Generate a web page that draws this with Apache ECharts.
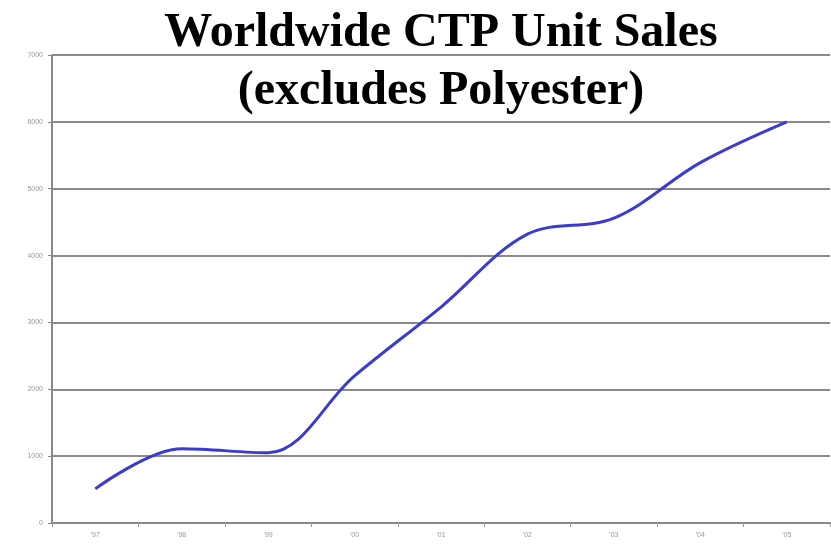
<!DOCTYPE html>
<html>
<head>
<meta charset="utf-8">
<script src="https://cdn.jsdelivr.net/npm/echarts@6/dist/echarts.min.js"></script>
<style>
html,body{margin:0;padding:0;background:#fff;}
#chart{width:831px;height:546px;}
</style>
</head>
<body>
<div id="chart"></div>
<script>
const titleLines = ["Worldwide CTP Unit Sales", "(excludes Polyester)"];
const categories = ["'97", "'98", "'99", "'00", "'01", "'02", "'03", "'04", "'05"];
const unitSales = [510, 1110, 1050, 2200, 3230, 4320, 4560, 5390, 6000];
const yMin = 0, yMax = 7000, yStep = 1000;

const chart = echarts.init(document.getElementById('chart'));
chart.setOption({
  animation: false,
  backgroundColor: '#ffffff',
  title: {
    text: titleLines.join('\n'),
    left: 436,
    textAlign: 'center',
    top: 0,
    textStyle: {
      fontFamily: '"Liberation Serif", "Times New Roman", serif',
      fontWeight: 'bold',
      fontSize: 48,
      lineHeight: 58,
      color: '#000'
    }
  },
  grid: { left: 52, right: 1, top: 55, bottom: 23, containLabel: false },
  xAxis: {
    type: 'category',
    data: categories,
    boundaryGap: true,
    axisLine: { lineStyle: { color: '#888', width: 2 } },
    axisTick: { show: true, length: 4, lineStyle: { color: '#999' } },
    axisLabel: { fontSize: 7, color: '#999', margin: 9, fontFamily: 'Arial, sans-serif' }
  },
  yAxis: {
    type: 'value',
    min: yMin, max: yMax, interval: yStep,
    axisLine: { show: true, lineStyle: { color: '#888', width: 2 } },
    axisTick: { show: true, length: 4, lineStyle: { color: '#888' } },
    axisLabel: { fontSize: 7, color: '#999', margin: 9, fontFamily: 'Arial, sans-serif', formatter: v => String(v) },
    splitLine: { show: true, lineStyle: { color: '#8a8a8a', width: 2 } }
  },
  series: [{
    type: 'line',
    data: unitSales,
    smooth: 0.35,
    symbol: 'none',
    lineStyle: { color: '#3b3bd0', width: 3 }
  }]
});
</script>
</body>
</html>
